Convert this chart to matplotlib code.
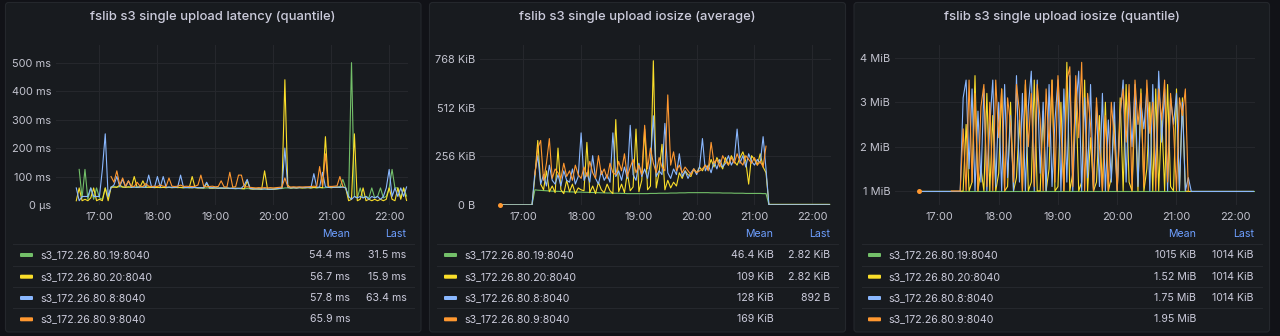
import numpy as np
import pandas as pd
import matplotlib
matplotlib.use("Agg")
import matplotlib.pyplot as plt
import matplotlib.dates as mdates
from matplotlib.patches import FancyBboxPatch
from matplotlib.lines import Line2D

nan = np.nan

# ---------------------------------------------------------------- data
series_names = ["s3_172.26.80.19:8040", "s3_172.26.80.20:8040",
                "s3_172.26.80.8:8040", "s3_172.26.80.9:8040"]
series_colors = ["#73bf69", "#fade2a", "#8ab8ff", "#ff9830"]

panel_titles = ["fslib s3 single upload latency (quantile)",
                "fslib s3 single upload iosize (average)",
                "fslib s3 single upload iosize (quantile)"]

time_start = "2024-01-01 16:36"   # samples every 3 minutes
time_step = "3min"
hour_ticks = ["17:00", "18:00", "19:00", "20:00", "21:00", "22:00"]

# panel 1: latency (ms)
lat_yticks = [0, 100, 200, 300, 400, 500]
lat_yticklabels = ["0 µs", "100 ms", "200 ms", "300 ms", "400 ms", "500 ms"]
lat_green = [
    nan, 125, 25, 125, 20, 60, 20, 60, 25, 20,
    60, 25, 64, 64, 63, 64, 63, 63, 62, 63,
    63, 62, 63, 62, 63, 62, 62, 63, 62, 61,
    62, 61, 62, 61, 61, 62, 61, 60, 61, 60,
    60, 61, 60, 60, 59, 60, 59, 59, 60, 59,
    59, 58, 59, 58, 58, 57, 58, 57, 57, 58,
    57, 56, 57, 56, 55, 56, 55, 56, 55, 56,
    57, 58, 60, 60, 59, 60, 60, 61, 60, 60,
    61, 60, 61, 60, 61, 60, 61, 62, 61, 62,
    62, 63, 90, 60, 25, 500, 30, 25, 60, 25,
    30, 25, 60, 25, 30, 60, 25, 30, 60, 125,
    60, 60, 25, 60, 31.5,
]
lat_yellow = [
    15, 60, 15, 20, 15, 25, 60, 15, 20, 15,
    60, 15, 62, 63, 62, 70, 63, 62, 64, 62,
    100, 62, 63, 85, 62, 63, 62, 61, 62, 62,
    62, 61, 62, 61, 62, 61, 62, 61, 62, 61,
    100, 61, 60, 61, 60, 75, 60, 59, 60, 59,
    59, 60, 59, 58, 60, 58, 59, 58, 57, 85,
    57, 56, 57, 56, 56, 120, 56, 55, 56, 57,
    58, 60, 440, 70, 60, 61, 60, 61, 60, 61,
    61, 60, 62, 61, 62, 61, 240, 62, 61, 62,
    62, 63, 64, 60, 15, 20, 250, 15, 20, 60,
    15, 20, 15, 20, 15, 20, 15, 20, 60, 20,
    15, 60, 20, 60, 15.9,
]
lat_blue = [
    60, 15, 30, 30, 30, 60, 30, 30, 30, 125,
    250, 30, 62, 70, 100, 65, 90, 63, 85, 62,
    63, 62, 64, 63, 62, 105, 63, 62, 100, 63,
    100, 62, 63, 62, 62, 63, 105, 62, 61, 62,
    61, 62, 61, 60, 61, 80, 60, 61, 60, 59,
    60, 59, 60, 59, 58, 59, 58, 59, 70, 90,
    58, 57, 56, 57, 56, 57, 56, 55, 56, 57,
    58, 60, 200, 62, 60, 61, 60, 61, 62, 61,
    62, 61, 110, 62, 63, 115, 64, 62, 63, 62,
    63, 62, 63, 60, 30, 20, 30, 25, 30, 25,
    30, 20, 30, 25, 30, 20, 30, 60, 125, 30,
    60, 30, 60, 30, 63.4,
]
lat_orange = [
    nan, nan, nan, nan, nan, nan, nan, nan, nan, nan,
    nan, nan, 100, 80, 120, 70, 95, 65, 85, 66,
    65, 80, 66, 65, 75, 66, 65, 66, 65, 70,
    66, 65, 95, 66, 65, 66, 70, 65, 66, 65,
    65, 66, 70, 105, 65, 64, 65, 66, 64, 65,
    85, 64, 63, 115, 63, 64, 105, 105, 63, 64,
    62, 61, 60, 61, 60, 61, 60, 61, 60, 61,
    62, 63, 95, 64, 63, 64, 63, 64, 63, 64,
    64, 65, 66, 65, 135, 66, 180, 66, 65, 66,
    67, 100, 66, nan, nan, nan, nan, nan, nan, nan,
    nan, nan, nan, nan, nan, nan, nan, nan, nan, nan,
    nan, nan, nan, nan, nan,
]
lat_mean = ["54.4 ms", "56.7 ms", "57.8 ms", "65.9 ms"]
lat_last = ["31.5 ms", "15.9 ms", "63.4 ms", ""]

# panel 2: average io size (KiB)
avg_yticks = [0, 256, 512, 768]
avg_yticklabels = ["0 B", "256 KiB", "512 KiB", "768 KiB"]
avg_green = [
    0, 0, 0, 0, 0, 0, 0, 0, 0, 0,
    0, 0, 80, 78, 77, 76, 75, 74, 73, 72,
    72, 71, 70, 70, 69, 69, 68, 68, 68, 67,
    67, 66, 66, 65, 65, 64, 64, 63, 63, 62,
    62, 62, 61, 61, 60, 60, 60, 60, 60, 60,
    60, 60, 61, 61, 61, 62, 62, 62, 62, 63,
    63, 63, 64, 64, 64, 65, 65, 65, 65, 65,
    65, 65, 65, 64, 64, 64, 64, 63, 63, 63,
    63, 62, 62, 62, 62, 61, 61, 61, 61, 61,
    61, 60, 60, 3, 3, 3, 3, 3, 3, 3,
    3, 3, 3, 3, 3, 3, 3, 3, 3, 3,
    3, 3, 3, 3, 2.82,
]
avg_yellow = [
    0, 0, 0, 0, 0, 0, 0, 0, 0, 0,
    0, 0, 150, 340, 110, 80, 180, 70, 100, 65,
    300, 80, 60, 130, 70, 110, 60, 90, 80, 75,
    330, 65, 100, 60, 120, 80, 65, 110, 75, 60,
    450, 70, 110, 65, 170, 75, 95, 400, 70, 130,
    400, 80, 100, 760, 90, 170, 320, 80, 130, 90,
    120, 100, 170, 140, 180, 160, 150, 190, 170, 200,
    180, 210, 190, 240, 200, 250, 220, 190, 250, 210,
    260, 230, 210, 250, 280, 230, 110, 260, 240, 210,
    270, 200, 170, 3, 3, 3, 3, 3, 3, 3,
    3, 3, 3, 3, 3, 3, 3, 3, 3, 3,
    3, 3, 3, 3, 2.82,
]
avg_blue = [
    0, 0, 0, 0, 0, 0, 0, 0, 0, 0,
    0, 0, 170, 260, 110, 160, 100, 210, 130, 110,
    160, 100, 180, 130, 120, 190, 110, 150, 380, 130,
    170, 120, 260, 140, 110, 180, 130, 160, 120, 380,
    150, 180, 130, 200, 140, 420, 160, 130, 220, 150,
    190, 140, 220, 470, 150, 180, 160, 430, 170, 140,
    190, 160, 270, 150, 180, 140, 170, 190, 160, 200,
    350, 180, 210, 170, 230, 190, 240, 200, 220, 260,
    210, 240, 400, 220, 260, 200, 270, 230, 210, 240,
    220, 360, 190, 1, 1, 1, 1, 1, 1, 1,
    1, 1, 1, 1, 1, 1, 1, 1, 1, 1,
    1, 1, 1, 1, 0.87,
]
avg_orange = [
    0, nan, nan, nan, nan, nan, nan, nan, nan, nan,
    nan, nan, 160, 300, 340, 130, 220, 350, 140, 190,
    170, 140, 220, 150, 180, 130, 210, 160, 140, 200,
    150, 230, 170, 140, 260, 160, 190, 140, 220, 170,
    160, 230, 180, 270, 150, 200, 240, 170, 210, 160,
    420, 190, 300, 220, 170, 250, 200, 180, 580, 210,
    280, 180, 210, 170, 200, 180, 160, 190, 170, 180,
    190, 210, 180, 330, 220, 240, 200, 260, 230, 210,
    250, 220, 270, 230, 210, 260, 240, 220, 250, 210,
    230, 200, 310, nan, nan, nan, nan, nan, nan, nan,
    nan, nan, nan, nan, nan, nan, nan, nan, nan, nan,
    nan, nan, nan, nan, nan,
]
avg_mean = ["46.4 KiB", "109 KiB", "128 KiB", "169 KiB"]
avg_last = ["2.82 KiB", "2.82 KiB", "892 B", ""]

# panel 3: quantile io size (MiB)
q_yticks = [1, 2, 3, 4]
q_yticklabels = ["1 MiB", "2 MiB", "3 MiB", "4 MiB"]
q_green = [
    nan, 0.99, 0.99, 0.99, 0.99, 0.99, 0.99, 0.99, 0.99, 0.99,
    0.99, 0.99, 0.99, 0.99, 0.99, 0.99, 0.99, 0.99, 0.99, 0.99,
    0.99, 0.99, 0.99, 0.99, 0.99, 0.99, 0.99, 0.99, 0.99, 0.99,
    0.99, 0.99, 0.99, 0.99, 0.99, 0.99, 0.99, 0.99, 0.99, 0.99,
    0.99, 0.99, 0.99, 0.99, 0.99, 0.99, 0.99, 0.99, 0.99, 0.99,
    0.99, 0.99, 0.99, 0.99, 0.99, 0.99, 0.99, 0.99, 0.99, 0.99,
    0.99, 0.99, 0.99, 0.99, 0.99, 0.99, 0.99, 0.99, 0.99, 0.99,
    0.99, 0.99, 0.99, 0.99, 0.99, 0.99, 0.99, 0.99, 0.99, 0.99,
    0.99, 0.99, 0.99, 0.99, 0.99, 0.99, 0.99, 0.99, 0.99, 0.99,
    0.99, 0.99, 0.99, 0.99, 0.99, 0.99, 0.99, 0.99, 0.99, 0.99,
    0.99, 0.99, 0.99, 0.99, 0.99, 0.99, 0.99, 0.99, 0.99, 0.99,
    0.99, 0.99, 0.99, 0.99, 0.99,
]
q_yellow = [
    nan, 0.99, 0.99, 0.99, 0.99, 0.99, 0.99, 0.99, 0.99, 0.99,
    0.99, 0.99, 0.99, 0.99, 0.99, 0.99, 1.0, 2.5, 1.0, 1.2,
    3.6, 1.0, 1.5, 1.0, 3.2, 1.0, 2.7, 1.0, 1.4, 3.3,
    1.0, 1.1, 3.0, 1.0, 1.3, 2.6, 1.0, 3.4, 1.0, 1.2,
    3.5, 1.0, 1.0, 2.8, 1.0, 1.5, 3.5, 1.0, 1.1, 3.0,
    1.0, 3.9, 1.0, 1.4, 3.3, 1.0, 1.2, 3.5, 1.0, 2.2,
    1.0, 1.2, 2.7, 1.0, 3.0, 1.0, 1.3, 2.6, 1.0, 3.1,
    1.0, 3.4, 1.2, 1.0, 2.9, 1.0, 3.3, 1.0, 1.5, 3.0,
    1.0, 3.3, 1.0, 2.7, 1.0, 3.4, 1.1, 1.0, 3.3, 1.0,
    3.1, 1.0, 0.99, 0.99, 0.99, 0.99, 0.99, 0.99, 0.99, 0.99,
    0.99, 0.99, 0.99, 0.99, 0.99, 0.99, 0.99, 0.99, 0.99, 0.99,
    0.99, 0.99, 0.99, 0.99, 0.99,
]
q_blue = [
    nan, 0.99, 0.99, 0.99, 0.99, 0.99, 0.99, 0.99, 0.99, 0.99,
    0.99, 0.99, 0.99, 0.99, 0.99, 0.99, 3.1, 3.5, 1.5, 3.3,
    1.0, 2.8, 1.2, 3.3, 1.0, 2.5, 3.5, 1.1, 3.0, 1.0,
    3.4, 1.3, 2.7, 1.0, 3.6, 1.2, 3.2, 1.0, 2.9, 3.7,
    1.0, 3.5, 1.4, 3.0, 1.0, 3.4, 1.1, 2.6, 3.5, 1.0,
    3.3, 1.2, 3.6, 1.0, 2.8, 3.7, 1.0, 3.1, 1.3, 3.4,
    1.0, 2.9, 1.1, 3.2, 1.0, 2.6, 1.2, 3.0, 1.0, 2.7,
    3.5, 1.2, 3.2, 2.0, 3.4, 1.1, 3.0, 2.4, 3.3, 1.0,
    3.4, 1.3, 3.7, 2.1, 3.3, 1.0, 3.1, 2.5, 3.2, 1.0,
    3.0, 1.0, 1.3, 0.99, 0.99, 0.99, 0.99, 0.99, 0.99, 0.99,
    0.99, 0.99, 0.99, 0.99, 0.99, 0.99, 0.99, 0.99, 0.99, 0.99,
    0.99, 0.99, 0.99, 0.99, 0.99,
]
q_orange = [
    nan, 1.0, nan, nan, nan, nan, nan, nan, nan, nan,
    nan, nan, 1.0, 1.0, 1.0, 1.0, 2.4, 1.0, 3.5, 1.2,
    3.2, 1.0, 2.9, 3.4, 1.1, 3.0, 1.0, 3.5, 2.2, 3.3,
    1.0, 3.1, 2.5, 1.2, 3.4, 2.8, 1.0, 3.5, 2.0, 3.2,
    1.1, 3.4, 2.6, 1.0, 3.3, 2.0, 3.5, 1.2, 3.6, 2.4,
    1.0, 3.5, 3.8, 1.1, 3.6, 2.2, 3.9, 1.0, 3.2, 2.5,
    1.0, 3.1, 2.0, 1.0, 2.7, 1.0, 3.0, 2.2, 1.0, 2.8,
    3.3, 2.1, 3.4, 1.0, 3.5, 2.5, 3.2, 1.1, 3.5, 2.3,
    3.0, 1.0, 3.3, 2.6, 3.5, 1.2, 3.2, 2.4, 1.0, 3.1,
    2.7, 3.3, 1.0, nan, nan, nan, nan, nan, nan, nan,
    nan, nan, nan, nan, nan, nan, nan, nan, nan, nan,
    nan, nan, nan, nan, nan,
]
q_mean = ["1015 KiB", "1.52 MiB", "1.75 MiB", "1.95 MiB"]
q_last = ["1014 KiB", "1014 KiB", "1014 KiB", ""]

# ---------------------------------------------------------------- style
plt.rcParams['font.family'] = ['Inter', 'DejaVu Sans']
W, H = 1280, 336
BG = "#111217"
PANEL = "#181b1f"
BORDER = "#24272c"
GRID = "#25272c"
TXT = "#ccccdc"
TICK = "#c3c4cf"
HEAD = "#6e9fff"
FS_TITLE = 9.4
FS_TICK = 7.9
FS_LEG = 7.6

fig = plt.figure(figsize=(W / 100, H / 100), dpi=100, facecolor=BG)


def fx(x):
    return x / W


def fy(y):
    return 1 - y / H


panels = [
    dict(box=(5.5, 2.5, 421, 332), ax=(56, 45, 408, 205),
         series=[lat_green, lat_yellow, lat_blue, lat_orange],
         ylim=(0, 562), yticks=lat_yticks, yticklabels=lat_yticklabels,
         mean=lat_mean, last=lat_last,
         mean_x=350.5, last_x=406.5, sw_x=20, name_x=40, sep=(13, 414)),
    dict(box=(429.5, 2.5, 845.5, 332), ax=(480, 45, 831, 205),
         series=[avg_green, avg_yellow, avg_blue, avg_orange],
         ylim=(0, 843), yticks=avg_yticks, yticklabels=avg_yticklabels,
         mean=avg_mean, last=avg_last,
         mean_x=773.5, last_x=830.5, sw_x=444, name_x=464, sep=(437, 838)),
    dict(box=(854, 2.5, 1269.5, 332), ax=(895, 45, 1255, 205),
         series=[q_green, q_yellow, q_blue, q_orange],
         ylim=(0.684, 4.29), yticks=q_yticks, yticklabels=q_yticklabels,
         mean=q_mean, last=q_last,
         mean_x=1196, last_x=1254, sw_x=868, name_x=888, sep=(862, 1262)),
]

xlim = (pd.Timestamp("2024-01-01 16:15"), pd.Timestamp("2024-01-01 22:19:30"))
xticks = [pd.Timestamp("2024-01-01 " + t) for t in hour_ticks]

header_y = 234.3
row_y = [255, 276.7, 298, 319.3]
sep_y = [244.3, 266, 287.3, 308.3]

for i, p in enumerate(panels):
    x0, y0, x1, y1 = p["box"]
    box = FancyBboxPatch((x0 / 100, (H - y1) / 100), (x1 - x0) / 100, (y1 - y0) / 100,
                         boxstyle="round,pad=0,rounding_size=0.03",
                         transform=fig.dpi_scale_trans, facecolor=PANEL,
                         edgecolor=BORDER, linewidth=0.8, zorder=-10)
    fig.add_artist(box)
    fig.text(fx((x0 + x1) / 2), fy(16.7), panel_titles[i], ha="center", va="center",
             color=TXT, fontsize=FS_TITLE, fontweight="medium")

    l, t, r, b = p["ax"]
    ax = fig.add_axes([fx(l), fy(b), (r - l) / W, (b - t) / H])
    ax.set_facecolor("none")
    for s in ax.spines.values():
        s.set_visible(False)

    for vals, col in zip(p["series"], series_colors):
        arr = np.array(vals, dtype=float)
        times = pd.date_range(time_start, periods=len(arr), freq=time_step)
        ax.plot(times, arr, color=col, lw=0.8, solid_joinstyle="round")
        ok = ~np.isnan(arr)
        prev_nan = np.concatenate([[True], ~ok[:-1]])
        next_nan = np.concatenate([~ok[1:], [True]])
        iso = ok & prev_nan & next_nan
        if iso.any():
            ax.plot(times[iso], arr[iso], "o", color=col, ms=3.6, mew=0, clip_on=False)

    ax.set_xlim(*xlim)
    ax.set_ylim(*p["ylim"])
    ax.set_xticks(xticks)
    ax.xaxis.set_major_formatter(mdates.DateFormatter("%H:%M"))
    ax.set_yticks(p["yticks"])
    ax.set_yticklabels(p["yticklabels"])
    ax.tick_params(length=0, colors=TICK, labelsize=FS_TICK)
    ax.tick_params(axis="y", pad=3.5)
    ax.tick_params(axis="x", pad=5.0)
    ax.grid(True, color=GRID, lw=0.8)
    ax.set_axisbelow(True)

    # legend table
    fig.text(fx(p["mean_x"]), fy(header_y), "Mean", ha="right", va="center",
             color=HEAD, fontsize=FS_LEG)
    fig.text(fx(p["last_x"]), fy(header_y), "Last", ha="right", va="center",
             color=HEAD, fontsize=FS_LEG)
    sx0, sx1 = p["sep"]
    for yy in sep_y:
        fig.add_artist(Line2D([fx(sx0), fx(sx1)], [fy(yy), fy(yy)],
                              transform=fig.transFigure, color="#25282d", lw=0.8))
    for j in range(4):
        yy = row_y[j]
        fig.add_artist(FancyBboxPatch((p["sw_x"] / 100, (H - yy - 2) / 100), 0.13, 0.04,
                                      boxstyle="round,pad=0,rounding_size=0.01",
                                      transform=fig.dpi_scale_trans,
                                      facecolor=series_colors[j], edgecolor="none"))
        fig.text(fx(p["name_x"]), fy(yy), series_names[j], ha="left", va="center",
                 color=TXT, fontsize=FS_LEG)
        fig.text(fx(p["mean_x"]), fy(yy), p["mean"][j], ha="right", va="center",
                 color=TXT, fontsize=FS_LEG)
        fig.text(fx(p["last_x"]), fy(yy), p["last"][j], ha="right", va="center",
                 color=TXT, fontsize=FS_LEG)

fig.savefig("out.png", dpi=100, facecolor=BG)
